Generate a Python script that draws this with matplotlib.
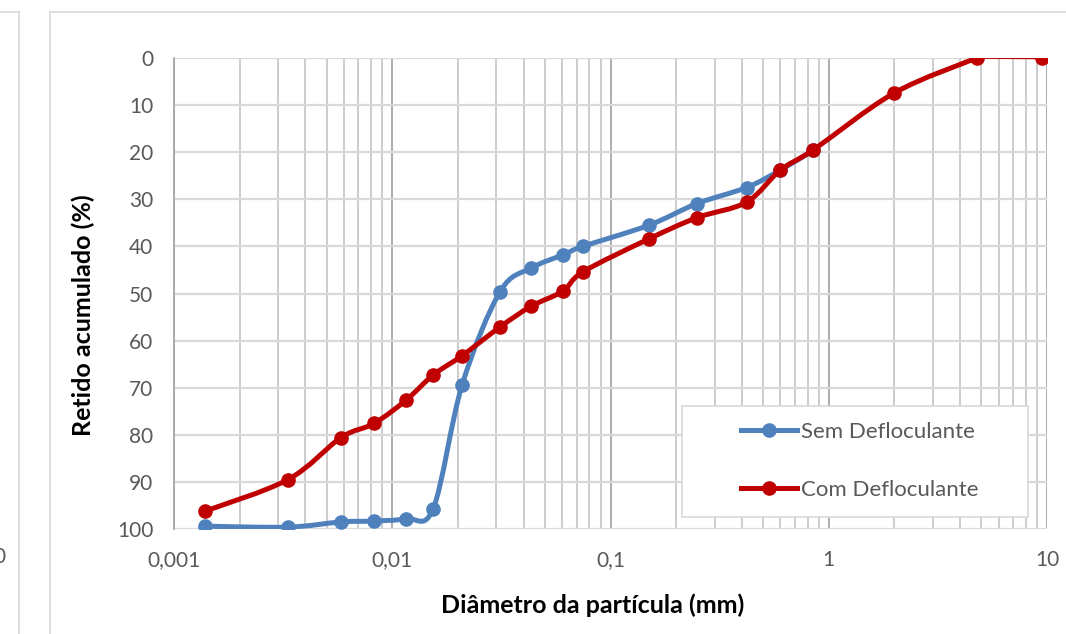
import numpy as np
import matplotlib
matplotlib.use("Agg")
import matplotlib.pyplot as plt
from matplotlib.path import Path
from matplotlib.patches import PathPatch, Rectangle
from matplotlib.lines import Line2D
from matplotlib.ticker import FixedLocator, FixedFormatter, NullFormatter

plt.rcParams["font.family"] = ["Lato", "DejaVu Sans"]

# diâmetro (mm) e retido acumulado (%)
diam_sem = [0.00139, 0.00333, 0.00582, 0.00824, 0.0116, 0.0154, 0.0209, 0.0312,
            0.0433, 0.0605, 0.0748, 0.150, 0.249, 0.420, 0.600, 0.850]
ret_sem = [99.4, 99.6, 98.5, 98.3, 97.8, 95.7, 69.4, 49.6,
           44.6, 41.8, 40.0, 35.5, 30.9, 27.5, 23.8, 19.6]

diam_com = [0.00139, 0.00333, 0.00582, 0.00824, 0.0116, 0.0154, 0.0209, 0.0312,
            0.0433, 0.0605, 0.0748, 0.150, 0.249, 0.420, 0.600, 0.850,
            2.00, 4.76, 9.50]
ret_com = [96.2, 89.5, 80.6, 77.6, 72.6, 67.3, 63.2, 57.1,
           52.7, 49.5, 45.4, 38.4, 33.9, 30.6, 23.8, 19.5,
           7.4, 0.0, 0.1]

x_ticks = [0.001, 0.01, 0.1, 1, 10]
x_tick_labels = ["0,001", "0,01", "0,1", "1", "10"]
y_ticks = [0, 10, 20, 30, 40, 50, 60, 70, 80, 90, 100]

blue = "#4F81BD"
red = "#C00000"
tick_color = "#595959"


def smooth_path(xs, ys):
    # linha suavizada tipo Excel: Bezier cúbica (Catmull-Rom) no espaço log-x
    lx = np.log10(xs)
    ly = np.asarray(ys, dtype=float)
    n = len(lx)
    verts = [(xs[0], ly[0])]
    codes = [Path.MOVETO]
    for i in range(n - 1):
        i0 = max(i - 1, 0)
        i3 = min(i + 2, n - 1)
        c1x = lx[i] + (lx[i + 1] - lx[i0]) / 6
        c1y = ly[i] + (ly[i + 1] - ly[i0]) / 6
        c2x = lx[i + 1] - (lx[i3] - lx[i]) / 6
        c2y = ly[i + 1] - (ly[i3] - ly[i]) / 6
        verts += [(10 ** c1x, c1y), (10 ** c2x, c2y), (xs[i + 1], ly[i + 1])]
        codes += [Path.CURVE4] * 3
    return Path(verts, codes)


fig = plt.figure(figsize=(10.66, 6.34), dpi=100)
ax = fig.add_axes([174 / 1066, 1 - 529 / 634, 873 / 1066, 471 / 634])

ax.set_xscale("log")
ax.set_xlim(0.001, 10)
ax.set_ylim(100, 0)

# grade
ax.yaxis.set_major_locator(FixedLocator(y_ticks))
ax.xaxis.set_major_locator(FixedLocator(x_ticks))
ax.xaxis.set_major_formatter(FixedFormatter(x_tick_labels))
minor = [m * 10.0 ** e for e in range(-3, 1) for m in range(2, 10)]
ax.xaxis.set_minor_locator(FixedLocator(minor))
ax.xaxis.set_minor_formatter(NullFormatter())
ax.grid(axis="y", which="major", color="#d9d9d9", linewidth=1.6)
ax.grid(axis="x", which="major", color="#a6a6a6", linewidth=1.3)
ax.grid(axis="x", which="minor", color="#bfbfbf", linewidth=1.1)
ax.set_axisbelow(True)

for side in ["top", "right", "bottom"]:
    ax.spines[side].set_visible(False)
ax.spines["left"].set_color("#a6a6a6")
ax.spines["left"].set_linewidth(1.3)
ax.tick_params(axis="both", which="both", length=0)
ax.tick_params(axis="y", pad=15, labelsize=15, labelcolor=tick_color)
ax.tick_params(axis="x", pad=15, labelsize=15, labelcolor=tick_color)

# séries
ax.add_patch(PathPatch(smooth_path(diam_sem, ret_sem), fill=False,
                       edgecolor=blue, linewidth=3.6, capstyle="round",
                       joinstyle="round", zorder=3))
ax.plot(diam_sem, ret_sem, linestyle="none", marker="o", markersize=9.5,
        color=blue, zorder=4)

ax.add_patch(PathPatch(smooth_path(diam_com[:-1], ret_com[:-1]), fill=False,
                       edgecolor=red, linewidth=3.6, capstyle="round",
                       joinstyle="round", zorder=5))
ax.plot(diam_com[-2:], ret_com[-2:], color=red, linewidth=1.2, zorder=5)
ax.plot(diam_com, ret_com, linestyle="none", marker="o", markersize=9.5,
        color=red, zorder=6)

ax.set_xlabel("Diâmetro da partícula (mm)", fontsize=18, fontweight="bold",
              color="black")
ax.set_ylabel("Retido acumulado (%)", fontsize=18, fontweight="bold",
              color="black")
ax.xaxis.set_label_coords(0.479, -64 / 471)
ax.yaxis.set_label_coords(-79 / 873, 0.454)

# legenda: moldura própria e conteúdo centrado
ax.add_patch(Rectangle((508 / 873, 12 / 471), 346 / 873, 111 / 471,
                       transform=ax.transAxes, facecolor="white",
                       edgecolor="#d9d9d9", linewidth=1.2, zorder=7))
handles = [
    Line2D([], [], color=blue, linewidth=3.6, marker="o", markersize=9.5),
    Line2D([], [], color=red, linewidth=3.6, marker="o", markersize=9.5),
]
leg = ax.legend(handles, ["Sem Defloculante", "Com Defloculante"],
                loc="center", bbox_to_anchor=(686 / 873, 68 / 471),
                fontsize=16, labelcolor=tick_color, frameon=False,
                borderpad=0, labelspacing=1.7,
                handlelength=2.5, handletextpad=0.2, borderaxespad=0)
leg.set_zorder(8)

# bordas dos quadros vizinhos
border = "#d9d9d9"
fig.add_artist(Line2D([50 / 1066, 50 / 1066], [0, 1 - 12 / 634], color=border,
                      linewidth=1.2, transform=fig.transFigure))
fig.add_artist(Line2D([50 / 1066, 1], [1 - 12 / 634, 1 - 12 / 634], color=border,
                      linewidth=1.2, transform=fig.transFigure))
fig.add_artist(Line2D([19 / 1066, 19 / 1066], [0, 1 - 12 / 634], color=border,
                      linewidth=1.2, transform=fig.transFigure))
fig.add_artist(Line2D([0, 19 / 1066], [1 - 12 / 634, 1 - 12 / 634], color=border,
                      linewidth=1.2, transform=fig.transFigure))
fig.text(6 / 1066, 1 - 557 / 634, "0", fontsize=15, color=tick_color,
         ha="right", va="center")

fig.savefig("out.png", dpi=100)
